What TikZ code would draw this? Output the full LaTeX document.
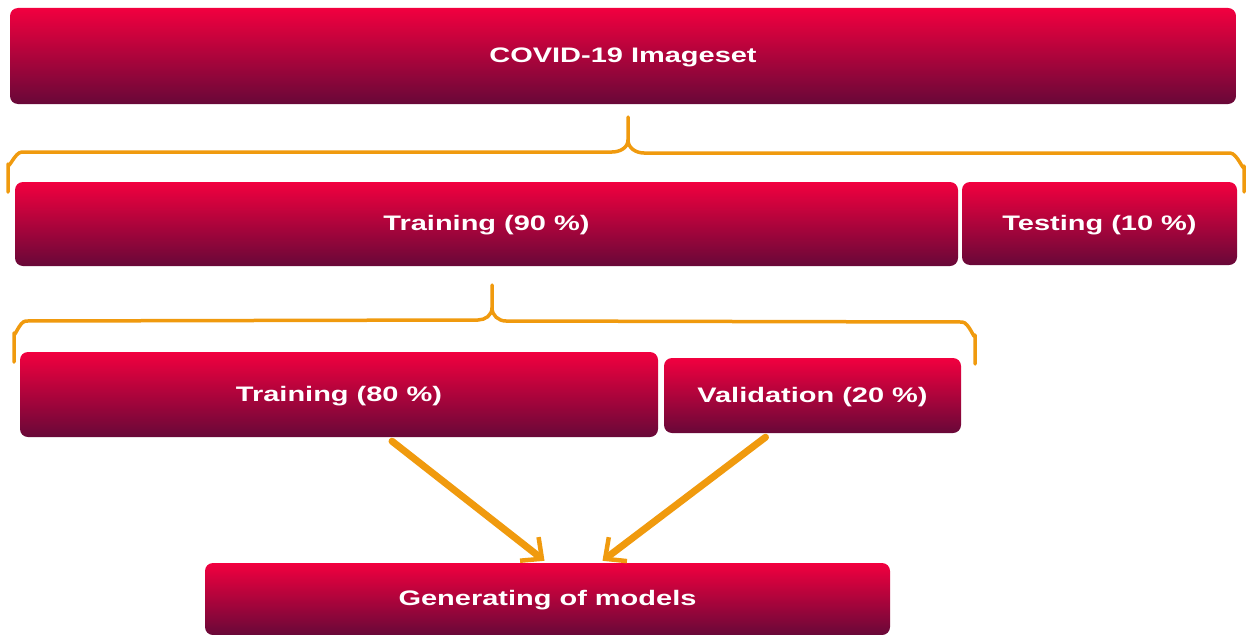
\documentclass[tikz,border=0pt]{standalone}
\usepackage{fontspec}
\usepackage{graphicx}
\setmainfont{Liberation Sans}
\usetikzlibrary{arrows.meta}
\definecolor{boxtop}{HTML}{F2003F}
\definecolor{boxbot}{HTML}{680838}
\definecolor{brorange}{HTML}{F09A0E}
\newcommand{\boxtxt}[1]{\raisebox{-6.5pt}[0pt][0pt]{\scalebox{1.38}[1]{\bfseries\fontsize{21}{25}\selectfont #1}}}
\tikzset{
  stagebox/.style={rounded corners=8pt, top color=boxtop, bottom color=boxbot,
    draw=none, text=white, inner sep=0pt, anchor=center},
  bracepath/.style={draw=brorange, line width=3.5pt, line cap=round, line join=round},
  flowarrow/.style={draw=brorange, line width=7pt, line cap=round,
    -{Straight Barb[length=16pt,width=30pt,line width=4.5pt]}}
}
\begin{document}
\begin{tikzpicture}[x=1pt,y=-1pt]
\useasboundingbox (0,0) rectangle (1249,634);
% boxes
\node[stagebox, minimum width=1226pt, minimum height=96pt] (cov) at (623,56) {\boxtxt{COVID-19 Imageset}};
\node[stagebox, minimum width=943pt, minimum height=84pt] (t90) at (486.5,224) {\boxtxt{Training (90 \%)}};
\node[stagebox, minimum width=275pt, minimum height=83pt] (tst) at (1099.5,223.5) {\boxtxt{Testing (10 \%)}};
\node[stagebox, minimum width=638pt, minimum height=85pt] (t80) at (339,394.5) {\boxtxt{Training (80 \%)}};
\node[stagebox, minimum width=297pt, minimum height=75pt] (val) at (812.5,395.5) {\boxtxt{Validation (20 \%)}};
\node[stagebox, minimum width=685pt, minimum height=72pt] (gen) at (547.5,599) {\boxtxt{Generating of models}};
% braces
\draw[bracepath] (8,192) -- (8,164) to[out=-90,in=180] (22,152) -- (612,152)
  to[out=0,in=-90] (628,140) -- (628,117);
\draw[bracepath] (628,140) to[out=-90,in=180] (644,153) -- (1230,153)
  to[out=0,in=-90] (1244,166) -- (1244,192);
\draw[bracepath] (14,362) -- (14,333) to[out=-90,in=180] (26,321) -- (478,320)
  to[out=0,in=-90] (492,308) -- (492,285);
\draw[bracepath] (492,308) to[out=-90,in=180] (506,321) -- (962,322)
  to[out=0,in=-90] (975,335) -- (975,364);
% arrows
\draw[flowarrow] ([xshift=53pt,yshift=-4pt]t80.south) -- ([xshift=-3pt,yshift=2pt]gen.north);
\draw[flowarrow] ([xshift=-47pt,yshift=-4pt]val.south) -- ([xshift=55pt,yshift=2pt]gen.north);
\end{tikzpicture}
\end{document}
